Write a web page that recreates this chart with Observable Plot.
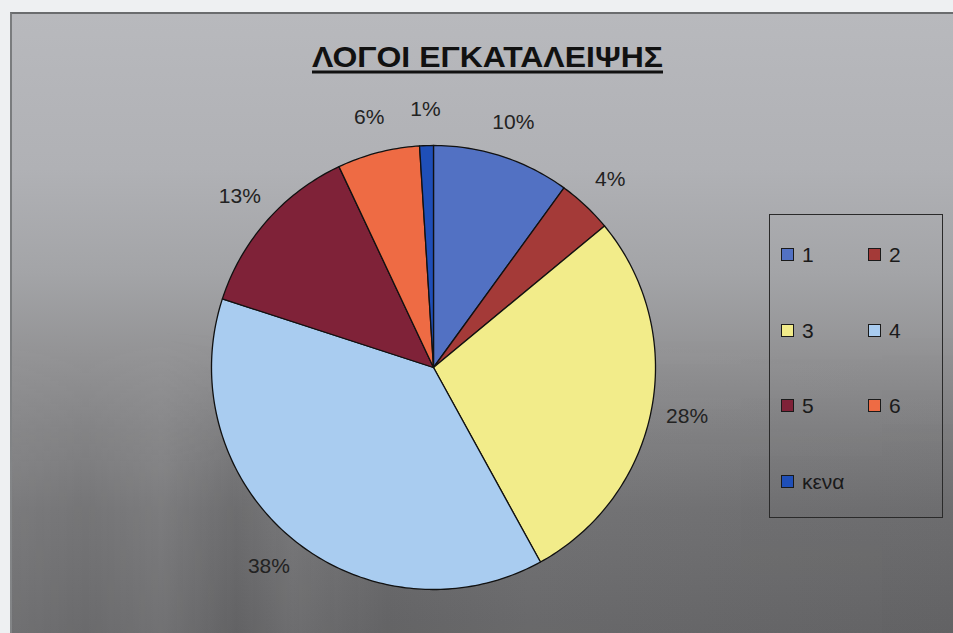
<!DOCTYPE html>
<html>
<head>
<meta charset="utf-8">
<script src="https://cdn.jsdelivr.net/npm/d3@7"></script>
<script src="https://cdn.jsdelivr.net/npm/@observablehq/plot@0.6"></script>
<style>
  html, body { margin: 0; padding: 0; background: #eef0f2; }
  #wrap { position: relative; width: 953px; height: 633px; overflow: hidden; background: #eef0f2; font-family: "Liberation Sans", Arial, sans-serif; }
  #bg { position: absolute; left: 10px; top: 12px; right: 0; bottom: 0;
        border-top: 2px solid #6a6c6e; border-left: 2px solid #7a7c7e;
        background: linear-gradient(to bottom, #b8b9bd 0%, #b0b1b5 25%, #a3a4a7 42%, #939395 55%, #808082 68%, #717173 80%, #666668 100%); }
  #streaks { position: absolute; left: 10px; top: 330px; right: 0; bottom: 0;
        background: linear-gradient(to right, rgba(255,255,255,0.07) 0%, rgba(255,255,255,0.03) 8%, rgba(255,255,255,0.08) 16%, rgba(0,0,0,0.03) 24%, rgba(255,255,255,0.05) 30%, rgba(0,0,0,0.02) 40%, rgba(255,255,255,0.02) 55%, rgba(0,0,0,0.03) 100%);
        -webkit-mask-image: linear-gradient(to bottom, transparent 0%, black 45%, black 100%); mask-image: linear-gradient(to bottom, transparent 0%, black 45%, black 100%); }
  #chart { position: absolute; left: 0; top: 0; }
  #title { position: absolute; left: 0; top: 0; }
  #legend { position: absolute; left: 769px; top: 214px; width: 174px; height: 304px; border: 1px solid #2a2a2a; box-sizing: border-box; }
  .item { position: absolute; display: flex; align-items: center; font-size: 21px; color: #1a1a1a; line-height: 1; }
  .sw { width: 11px; height: 11px; border: 1px solid #1a1a1a; margin-right: 8px; }
</style>
</head>
<body>
<div id="wrap">
  <div id="bg"></div>
  <div id="streaks"></div>
  <div id="chart"></div>
  <svg id="title" width="953" height="100"></svg>
  <div id="legend"></div>
</div>
<script>
// ---- data ----
const categories = ["1", "2", "3", "4", "5", "6", "κενα"];
const values = [10, 4, 28, 38, 13, 6, 1];
const colors = ["#5271c3", "#a43a38", "#f2ec8a", "#a9ccf0", "#7f2238", "#ee6b44", "#1f4fb8"];
const titleText = "ΛΟΓΟΙ ΕΓΚΑΤΑΛΕΙΨΗΣ";

// ---- build slices via d3.pie (clockwise from 12 o'clock) ----
const pie = d3.pie().sort(null).value(d => d.value);
const rows = categories.map((c, i) => ({name: c, value: values[i]}));
const arcs = pie(rows);
const total = d3.sum(values);

const polys = [];
arcs.forEach(a => {
  const n = Math.max(2, Math.ceil((a.endAngle - a.startAngle) / (Math.PI / 180)));
  polys.push({name: a.data.name, x: 0, y: 0});
  for (let k = 0; k <= n; k++) {
    const t = a.startAngle + (a.endAngle - a.startAngle) * k / n;
    polys.push({name: a.data.name, x: Math.sin(t), y: Math.cos(t)});
  }
  polys.push({name: a.data.name, x: 0, y: 0});
});

const labelR = 1.163;
const labels = arcs.map(a => {
  const m = (a.startAngle + a.endAngle) / 2;
  return {name: a.data.name, x: labelR * Math.sin(m), y: labelR * Math.cos(m),
          text: Math.round(a.data.value / total * 100) + "%"};
});

const W = 953, H = 633;
const plot = Plot.plot({
  width: W, height: H,
  marginLeft: 211, marginRight: 298, marginTop: 145, marginBottom: 44,
  x: {domain: [-1, 1], axis: null},
  y: {domain: [-1, 1], axis: null},
  color: {domain: categories, range: colors},
  style: {background: "transparent", overflow: "visible"},
  marks: [
    Plot.line(polys, {x: "x", y: "y", z: "name", fill: "name", stroke: "#111", strokeWidth: 1.3, curve: "linear", strokeLinejoin: "round"}),
    Plot.text(labels, {x: "x", y: "y", text: "text", fontSize: 21, fill: "#222", fontFamily: "Liberation Sans, Arial, sans-serif"})
  ]
});
document.getElementById("chart").appendChild(plot);

// ---- title ----
const tsvg = d3.select("#title");
tsvg.append("text")
  .attr("x", 487.5).attr("y", 67)
  .attr("text-anchor", "middle")
  .attr("font-family", "Liberation Sans, Arial, sans-serif")
  .attr("font-weight", "bold")
  .attr("font-size", 30)
  .attr("fill", "#111")
  .attr("textLength", 351)
  .attr("lengthAdjust", "spacingAndGlyphs")
  .text(titleText);
tsvg.append("rect").attr("x", 312).attr("y", 70.5).attr("width", 351).attr("height", 3).attr("fill", "#111");

// ---- legend ----
const legend = d3.select("#legend");
categories.forEach((c, i) => {
  const col = i % 2, row = Math.floor(i / 2);
  const it = legend.append("div").attr("class", "item")
    .style("left", (11 + col * 87) + "px")
    .style("top", (29 + row * 75.5) + "px");
  it.append("div").attr("class", "sw").style("background", colors[i]);
  it.append("span").text(c);
});
</script>
</body>
</html>
